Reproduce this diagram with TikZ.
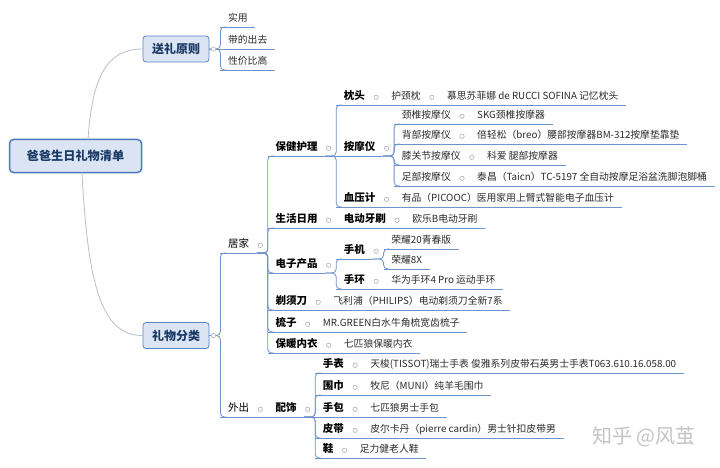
\documentclass[tikz,border=0pt]{standalone}
\usepackage{fontspec}
\setmainfont{Noto Sans CJK SC}
\definecolor{lineblue}{HTML}{6F93CC}
\definecolor{curvegray}{HTML}{B5BFCF}
\definecolor{boxfill}{HTML}{DAE4F3}
\definecolor{boxdraw}{HTML}{5A86C4}
\definecolor{rootdraw}{HTML}{4A7BBF}
\definecolor{navy}{HTML}{1B3A66}
\definecolor{txt}{HTML}{2B2B2B}
\definecolor{dotc}{HTML}{B0B0B0}
\definecolor{wmark}{HTML}{C4C4C4}
\newcommand\mmc[2]{\draw[conn] (#1.south east) -| (#2.south west) -- ++(6,0);}
\newcommand\mms[2]{\draw[conn] (#1.south east) -- (#2.south west);}
\newcommand\mmb[2]{\draw[conn] (#1.east) -| (#2.south west) -- ++(6,0);}
\newcommand\mmbs[2]{\draw[conn] (#1.east) -- (#2.south west);}
\newcommand\mmu[1]{\draw[uline] (#1.south west) -- (#1.south east);}
\newcommand\mmd[1]{\node[mmdot] (#1d) at ([xshift=3.5pt]#1.east) {};}
\begin{document}
\begin{tikzpicture}[x=1pt,y=-1pt,
  base/.style={inner xsep=7.5pt, inner ysep=2.5pt, text height=7.5pt, text depth=2.5pt, anchor=south west},
  lf/.style={base, font=\fontsize{9.8}{12}\selectfont, text=txt},
  md/.style={base, font=\fontsize{10.5}{12}\selectfont, text=black},
  bd/.style={base, font=\fontsize{10.5}{12}\selectfont\bfseries, text=black},
  topbox/.style={draw=boxdraw, line width=0.8pt, fill=boxfill, rounded corners=3pt, text=navy,
    font=\fontsize{12}{14}\selectfont\bfseries, minimum width=66pt, minimum height=26pt, inner sep=0pt},
  rootbox/.style={draw=rootdraw, line width=1.5pt, fill=boxfill, rounded corners=4pt, text=navy,
    font=\fontsize{12.2}{14}\selectfont\bfseries, minimum width=132pt, minimum height=33pt, inner sep=0pt},
  conn/.style={draw=lineblue, line width=0.8pt, rounded corners=4pt},
  uline/.style={draw=lineblue, line width=0.9pt},
  curve/.style={draw=curvegray, line width=0.8pt},
  mmdot/.style={circle, draw=dotc, fill=white, line width=0.6pt, minimum size=4.4pt, inner sep=0pt}
]
\fill[white] (0,0) rectangle (720,468);
\useasboundingbox (0,0) rectangle (720,468);

% level 0 / 1
\node[rootbox] (R) at (75.5,156) {爸爸生日礼物清单};
\node[topbox] (SR) at (176,49) {送礼原则};
\node[topbox] (LW) at (176,335.5) {礼物分类};
\coordinate (Rt) at (88,139.5);
\coordinate (Rb) at (82,172.5);
\draw[curve] (Rt) .. controls (92,80) and (105,49) .. (SR.west);
\draw[curve] (Rb) .. controls (88,290) and (103,335.5) .. (LW.west);

% 送礼原则
\node[lf, xshift=11pt] (a1) at (SR.east |- 0,27) {实用};
\node[lf, xshift=11pt] (a2) at (SR.east |- 0,49) {带的出去};
\node[lf, xshift=11pt] (a3) at (SR.east |- 0,70) {性价比高};

% 礼物分类
\node[md, xshift=11pt] (H) at (LW.east |- 0,253) {居家};
\node[md, xshift=11pt] (O) at (LW.east |- 0,417) {外出};

% 居家
\node[bd, xshift=11pt] (B1) at (H.south east |- 0,156) {保健护理};
\node[bd, xshift=11pt] (B2) at (H.south east |- 0,228) {生活日用};
\node[bd, xshift=11pt] (B3) at (H.south east |- 0,273) {电子产品};
\node[bd, xshift=11pt] (B4) at (H.south east |- 0,310) {剃须刀};
\node[bd, xshift=11pt] (B5) at (H.south east |- 0,332) {梳子};
\node[bd, xshift=11pt] (B6) at (H.south east |- 0,353) {保暖内衣};

% 保健护理
\node[bd, xshift=11pt] (C1) at (B1.south east |- 0,105) {枕头};
\node[bd, xshift=11pt] (C2) at (B1.south east |- 0,156) {按摩仪};
\node[bd, xshift=11pt] (C3) at (B1.south east |- 0,207) {血压计};
\node[lf, xshift=11pt] (D1) at (C1.south east |- 0,105) {护颈枕};
\node[lf, xshift=11pt] (E1) at (D1.south east |- 0,105) {慕思苏菲娜 de RUCCI SOFINA 记忆枕头};
\node[lf, xshift=11pt] (K1) at (C2.south east |- 0,124) {颈椎按摩仪};
\node[lf, xshift=11pt] (K2) at (C2.south east |- 0,144) {背部按摩仪};
\node[lf, xshift=11pt] (K3) at (C2.south east |- 0,165) {膝关节按摩仪};
\node[lf, xshift=11pt] (K4) at (C2.south east |- 0,186) {足部按摩仪};
\node[lf, xshift=11pt] (L1) at (K1.south east |- 0,124) {SKG颈椎按摩器};
\node[lf, xshift=11pt] (L2) at (K2.south east |- 0,144) {倍轻松（breo）腰部按摩器BM-312按摩垫靠垫};
\node[lf, xshift=11pt] (L3) at (K3.south east |- 0,165) {科爱 腿部按摩器};
\node[lf, xshift=11pt] (L4) at (K4.south east |- 0,186) {泰昌（Taicn）TC-5197 全自动按摩足浴盆洗脚泡脚桶};
\node[lf, xshift=11pt] (M3) at (C3.south east |- 0,207) {有品（PICOOC）医用家用上臂式智能电子血压计};

% 生活日用 / 电子产品 / ...
\node[bd, xshift=11pt] (F1) at (B2.south east |- 0,228) {电动牙刷};
\node[lf, xshift=11pt] (G1) at (F1.south east |- 0,228) {欧乐B电动牙刷};
\node[bd, xshift=11pt] (F2) at (B3.south east |- 0,259) {手机};
\node[bd, xshift=11pt] (F3) at (B3.south east |- 0,289) {手环};
\node[lf, xshift=11pt] (G2) at (F2.south east |- 0,249) {荣耀20青春版};
\node[lf, xshift=11pt] (G3) at (F2.south east |- 0,269) {荣耀8X};
\node[lf, xshift=11pt] (G4) at (F3.south east |- 0,289) {华为手环4 Pro 运动手环};
\node[lf, xshift=11pt] (F4) at (B4.south east |- 0,310) {飞利浦（PHILIPS）电动剃须刀全新7系};
\node[lf, xshift=11pt] (F5) at (B5.south east |- 0,332) {MR.GREEN白水牛角梳宽齿梳子};
\node[lf, xshift=11pt] (F6) at (B6.south east |- 0,353) {七匹狼保暖内衣};

% 外出
\node[bd, xshift=11pt] (P) at (O.south east |- 0,417) {配饰};
\node[bd, xshift=11pt] (Q1) at (P.south east |- 0,373) {手表};
\node[bd, xshift=11pt] (Q2) at (P.south east |- 0,395) {围巾};
\node[bd, xshift=11pt] (Q3) at (P.south east |- 0,417) {手包};
\node[bd, xshift=11pt] (Q4) at (P.south east |- 0,438) {皮带};
\node[bd, xshift=11pt] (Q5) at (P.south east |- 0,458) {鞋};
\node[lf, xshift=11pt] (S1) at (Q1.south east |- 0,373) {天梭(TISSOT)瑞士手表 俊雅系列皮带石英男士手表T063.610.16.058.00};
\node[lf, xshift=11pt] (S2) at (Q2.south east |- 0,395) {牧尼（MUNI）纯羊毛围巾};
\node[lf, xshift=11pt] (S3) at (Q3.south east |- 0,417) {七匹狼男士手包};
\node[lf, xshift=11pt] (S4) at (Q4.south east |- 0,438) {皮尔卡丹（pierre cardin）男士针扣皮带男};
\node[lf, xshift=11pt] (S5) at (Q5.south east |- 0,458) {足力健老人鞋};

% underlines
\foreach \n in {a1,a2,a3,H,O,B1,B2,B3,B4,B5,B6,C1,C2,C3,D1,E1,K1,K2,K3,K4,L1,L2,L3,L4,M3,
  F1,G1,F2,F3,G2,G3,G4,F4,F5,F6,P,Q1,Q2,Q3,Q4,Q5,S1,S2,S3,S4,S5}{\mmu{\n}}

% connectors
\mmb{SR}{a1} \mmbs{SR}{a2} \mmb{SR}{a3}
\mmb{LW}{H} \mmb{LW}{O}
\mmc{H}{B1} \mmc{H}{B2} \mmc{H}{B3} \mmc{H}{B4} \mmc{H}{B5} \mmc{H}{B6}
\mmc{B1}{C1} \mms{B1}{C2} \mmc{B1}{C3}
\mms{C1}{D1} \mms{D1}{E1}
\mmc{C2}{K1} \mmc{C2}{K2} \mmc{C2}{K3} \mmc{C2}{K4}
\mms{K1}{L1} \mms{K2}{L2} \mms{K3}{L3} \mms{K4}{L4}
\mms{C3}{M3}
\mms{B2}{F1} \mms{F1}{G1}
\mmc{B3}{F2} \mmc{B3}{F3}
\mmc{F2}{G2} \mmc{F2}{G3} \mms{F3}{G4}
\mms{B4}{F4} \mms{B5}{F5} \mms{B6}{F6}
\mms{O}{P}
\mmc{P}{Q1} \mmc{P}{Q2} \mms{P}{Q3} \mmc{P}{Q4} \mmc{P}{Q5}
\mms{Q1}{S1} \mms{Q2}{S2} \mms{Q3}{S3} \mms{Q4}{S4} \mms{Q5}{S5}

% collapse dots
\node[mmdot] (SRd) at ([xshift=4pt]SR.east) {};
\node[mmdot] (LWd) at ([xshift=4pt]LW.east) {};
\foreach \n in {H,O,B1,B2,B3,B4,B5,B6,C1,C2,C3,D1,K1,K2,K3,K4,F1,F2,F3,P,Q1,Q2,Q3,Q4,Q5}{\mmd{\n}}

% watermark
\node[text=wmark, font=\fontsize{20}{22}\selectfont, inner sep=0pt] (wm) at (644,437) {知乎 @风茧};
\end{tikzpicture}
\end{document}
